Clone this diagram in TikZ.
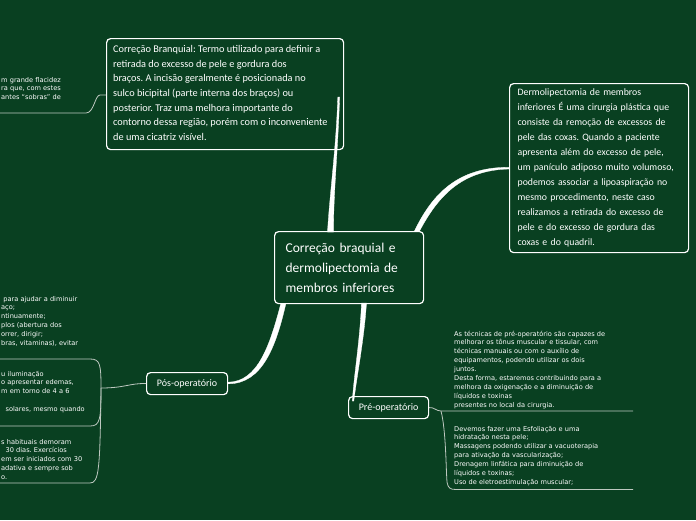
\documentclass[tikz,border=0pt]{standalone}
\usepackage{fontspec}
\setmainfont{Carlito}
\newfontfamily\smallfont{DejaVu Sans}
\definecolor{bg}{RGB}{9,64,33}
\definecolor{thinline}{RGB}{190,200,192}
\frenchspacing
\begin{document}
\begin{tikzpicture}[x=1pt,y=-1pt,
  box/.style={draw=white, line width=1.2pt, rounded corners=4pt, fill=bg, text=white, align=left, anchor=north west, inner ysep=0pt},
  hand/.style={text=white, align=left, inner sep=0pt, font=\fontsize{10.3}{14.7}\selectfont},
  small/.style={text=white, font=\smallfont\fontsize{6.6}{8.9}\selectfont, align=left, inner sep=0pt, anchor=base west, text width=200pt},
  thin/.style={draw=thinline, line width=0.8pt},
  branch/.style={fill=white, draw=white, line width=0.3pt}]
\useasboundingbox (0,0) rectangle (696,520);
\fill[bg] (0,0) rectangle (696,520);

% thick branches from the central node (behind the boxes)
\fill[branch] (414,232) .. controls (432,194) and (458,167) .. (509,167.3) -- (509,169) .. controls (460,170) and (437,198) .. (419,232) -- cycle;
\fill[branch] (281,303) .. controls (270,345) and (258,382) .. (228,382.2) -- (228,383.8) .. controls (262,384) and (276,347) .. (286,303) -- cycle;

% nodes
\node[box, minimum width=237pt, minimum height=111pt] (tl) at (106,38) {};
\node[hand, anchor=north west] (tltext) at ([xshift=7pt,yshift=-7pt]tl.north west)
{Correção Branquial: Termo utilizado para definir a\\
retirada do excesso de pele e gordura dos\\
braços. A incisão geralmente é posicionada no\\
sulco bicipital (parte interna dos braços) ou\\
posterior. Traz uma melhora importante do\\
contorno dessa região, porém com o inconveniente\\
de uma cicatriz visível.};

\node[box, minimum width=179pt, minimum height=169pt, text width=163pt, inner xsep=8pt, font=\fontsize{9.8}{15}\selectfont] (rt) at (509,83)
{Dermolipectomia de membros\\
inferiores É uma cirurgia plástica que\\
consiste da remoção de excessos de\\
pele das coxas. Quando a paciente\\
apresenta além do excesso de pele,\\
um panículo adiposo muito volumoso,\\
podemos associar a lipoaspiração no\\
mesmo procedimento, neste caso\\
realizamos a retirada do excesso de\\
pele e do excesso de gordura das\\
coxas e do quadril.};

\node[box, minimum width=149pt, minimum height=72pt, text width=127pt, inner xsep=11pt, font=\fontsize{13.5}{20}\selectfont] (ct) at (274,231)
{Correção braquial e\\
dermolipectomia de\\
membros inferiores};

\node[box, minimum width=81pt, minimum height=22pt, inner xsep=0pt, align=center, font=\fontsize{10}{12}\selectfont] (pos) at (146,372) {Pós-operatório};
\node[box, minimum width=80pt, minimum height=22pt, inner xsep=0pt, align=center, font=\fontsize{10}{12}\selectfont] (pre) at (348,396) {Pré-operatório};

% thick branches that run into their boxes
\fill[branch] (327.5,232) .. controls (330,190) and (336,150) .. (337.8,97) -- (339.6,97) .. controls (338,150) and (333.5,190) .. (333.5,232) -- cycle;
\fill[branch] (361.5,303) .. controls (360,340) and (354,375) .. (352.3,401) -- (353.8,401) .. controls (357,375) and (364,340) .. (366.5,303) -- cycle;

% thin connectors
\coordinate (tlj) at (100,95);
\draw[thin] (tl.west |- tlj) -- (tlj) .. controls (95,95) and (94,113) .. (86,113) -- (0,113);

\coordinate (posj) at (101,388);
\draw[thin] (pos.west) .. controls (130,383) and (125,388) .. (posj);
\draw[thin] (posj) .. controls (101,364) and (100,359) .. (90,359) -- (0,359);
\draw[thin] (posj) .. controls (101,420) and (100,426) .. (90,426) -- (0,426);
\draw[thin] (posj) .. controls (100,470) and (99,483) .. (90,483) -- (0,483);

\coordinate (prej) at (441,411);
\draw[thin] (pre.east) .. controls (434,407) and (436,411) .. (prej) -- (633,411);
\draw[thin] (prej) .. controls (446,430) and (446,470) .. (447,482) .. controls (448,488) and (450,489.5) .. (456,489.5) -- (633,489.5);

% child texts
\node[small] (tlc) at (1,82)
{m grande flacidez\\
ra que, com estes\\
antes “sobras” de};

\node[small] (pc1) at (1,301)
{\ para ajudar a diminuir\\
aço;\\
ntinuamente;\\
plos (abertura dos\\
orrer, dirigir;\\
bras, vitaminas), evitar};

\node[small] (pc2) at (1,376)
{u iluminação\\
o apresentar edemas,\\
m em torno de 4 a 6\\
\mbox{}\\
\ \ solares, mesmo quando};

\node[small] (pc3) at (1,444)
{s habituais demoram\\
\ \ 30 dias. Exercícios\\
em ser iniciados com 30\\
adativa e sempre sob\\
o.};

\node[small] (pr1) at (454,336)
{As técnicas de pré-operatório são capazes de\\
melhorar os tônus muscular e tissular, com\\
técnicas manuais ou com o auxílio de\\
equipamentos, podendo utilizar os dois\\
juntos.\\
Desta forma, estaremos contribuindo para a\\
melhora da oxigenação e a diminuição de\\
líquidos e toxinas\\
presentes no local da cirurgia.};

\node[small] (pr2) at (454,431)
{Devemos fazer uma Esfoliação e uma\\
hidratação nesta pele;\\
Massagens podendo utilizar a vacuoterapia\\
para ativação da vascularização;\\
Drenagem linfática para diminuição de\\
líquidos e toxinas;\\
Uso de eletroestimulação muscular;};
\end{tikzpicture}
\end{document}
